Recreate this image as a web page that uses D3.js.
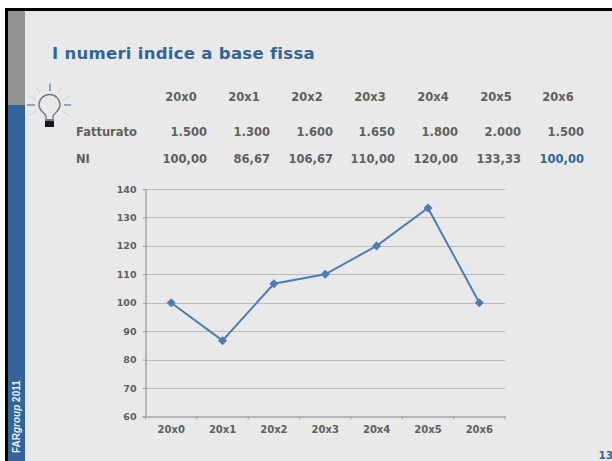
<!DOCTYPE html>
<html><head><meta charset="utf-8">
<script src="https://cdn.jsdelivr.net/npm/d3@7"></script>
<style>html,body{margin:0;padding:0;background:#fff}svg{display:block}</style></head>
<body><svg id="c" width="612" height="461"></svg>
<script>
const years = ["20x0","20x1","20x2","20x3","20x4","20x5","20x6"];
const fatturato = ["1.500","1.300","1.600","1.650","1.800","2.000","1.500"];
const niLabels = ["100,00","86,67","106,67","110,00","120,00","133,33","100,00"];
const niValues = [100,86.67,106.67,110,120,133.33,100];
const yTicks = [60,70,80,90,100,110,120,130,140];
const title = "I numeri indice a base fissa";
const footer = "2011";
const pageNo = "13";

const FONT = "Verdana,'DejaVu Sans',sans-serif";
const svg = d3.select("#c");
const blue = "#31659c", grey = "#5f5f5f";

svg.append("rect").attr("x",5).attr("y",8).attr("width",607).attr("height",453).attr("fill","#000");
svg.append("rect").attr("x",8).attr("y",11).attr("width",604).attr("height",450).attr("fill","#e9e9e9");
svg.append("rect").attr("x",8).attr("y",11).attr("width",17).attr("height",94).attr("fill","#939393");
svg.append("rect").attr("x",8).attr("y",105).attr("width",17).attr("height",356).attr("fill",blue);

svg.append("text").attr("x",52).attr("y",59).attr("font-family",FONT).attr("font-weight",700)
  .attr("font-size",16.5).attr("letter-spacing",0.28).attr("fill",blue).text(title);

// light bulb
const b = svg.append("g").attr("fill","none");
[[50,83.5,50,91],[27,105,35,105],[64,105,71,105]].forEach(l=>b.append("line")
  .attr("x1",l[0]).attr("y1",l[1]).attr("x2",l[2]).attr("y2",l[3]).attr("stroke",blue).attr("stroke-width",1));
[[36,87,40,93],[62,87,58,93],[29,96,36,100],[70,96,63,100],[30,115,37,111],[69,115,62,111]].forEach(l=>b.append("line")
  .attr("x1",l[0]).attr("y1",l[1]).attr("x2",l[2]).attr("y2",l[3]).attr("stroke","#c3cfdd").attr("stroke-width",1));
b.append("path").attr("d","M46,120 V116 C44,112 39,111 39,105 A10.5,10.5 0 1 1 60,105 C60,111 55,112 53,116 V120")
  .attr("stroke","#6f7c8a").attr("stroke-width",1.4);
svg.append("rect").attr("x",45).attr("y",121).attr("width",9).attr("height",6).attr("fill","#10171f");
svg.append("rect").attr("x",45).attr("y",119).attr("width",9).attr("height",2).attr("fill","#6f7c8a");

// table
const colRight = [207,270,333,395,458,521,584];
const colYear = [181,244,307,370,433,496,558];
const tbl = svg.append("g").attr("font-family",FONT).attr("font-weight",700).attr("font-size",11.5).attr("fill",grey);
tbl.append("text").attr("x",76).attr("y",136).text("Fatturato");
tbl.append("text").attr("x",76).attr("y",163).text("NI");
years.forEach((d,i)=>tbl.append("text").attr("x",colYear[i]).attr("y",101).attr("text-anchor","middle").text(d));
fatturato.forEach((d,i)=>tbl.append("text").attr("x",colRight[i]).attr("y",136).attr("text-anchor","end").text(d));
niLabels.forEach((d,i)=>tbl.append("text").attr("x",colRight[i]).attr("y",163).attr("text-anchor","end")
  .attr("fill",i===niLabels.length-1?blue:grey).text(d));

// chart
const x = d3.scaleBand().domain(years).range([145.5,505]);
const y = d3.scaleLinear().domain([60,140]).range([416.5,189]);
const gridVals = yTicks.slice(1);
svg.append("g").selectAll("line").data(gridVals).join("line")
  .attr("x1",145.5).attr("x2",505).attr("y1",d=>Math.round(y(d))+.5).attr("y2",d=>Math.round(y(d))+.5)
  .attr("stroke","#bcbcbc").attr("stroke-width",1);
const yAxis = svg.append("g").attr("transform","translate(145.5,0)")
  .call(d3.axisLeft(y).tickValues(yTicks).tickSize(3).tickPadding(6));
const xAxis = svg.append("g").attr("transform","translate(0,416.5)")
  .call(d3.axisBottom(x).tickSize(0).tickPadding(9));
xAxis.selectAll(".boundary").data(d3.range(8)).join("line").attr("class","boundary")
  .attr("x1",i=>145.5+i*x.step()).attr("x2",i=>145.5+i*x.step()).attr("y1",0).attr("y2",3).attr("stroke","#a0a0a0");
[yAxis,xAxis].forEach(a=>{
  a.select(".domain").attr("stroke","#858585").attr("stroke-width",1);
  a.selectAll(".tick line").attr("stroke","#a0a0a0");
  a.selectAll("text").attr("font-family",FONT).attr("font-weight",700).attr("font-size",9.5).attr("fill",grey);
});
xAxis.selectAll("text").attr("font-size",10);

const cx = d=>x(d)+x.bandwidth()/2;
const pts = years.map((d,i)=>[cx(d),y(niValues[i])]);
svg.append("path").attr("d",d3.line()(pts)).attr("fill","none").attr("stroke","#4a7ebb").attr("stroke-width",2);
svg.append("g").selectAll("path").data(pts).join("path")
  .attr("transform",d=>`translate(${d[0]},${d[1]})`)
  .attr("d",d3.symbol(d3.symbolDiamond2,52)).attr("fill","#4a7ebb");

// footer
const f = svg.append("text").attr("transform","translate(20,453) rotate(-90)")
  .attr("font-family","'Liberation Sans',Arial,sans-serif").attr("font-weight",700).attr("font-size",10).attr("fill","#e9eef5");
f.append("tspan").text("FAR");
f.append("tspan").attr("font-style","italic").text("group");
f.append("tspan").text(" "+footer);
svg.append("text").attr("x",613).attr("y",459).attr("text-anchor","end").attr("font-family",FONT).attr("font-weight",700)
  .attr("font-size",10.5).attr("fill",blue).text(pageNo);
</script></body></html>
